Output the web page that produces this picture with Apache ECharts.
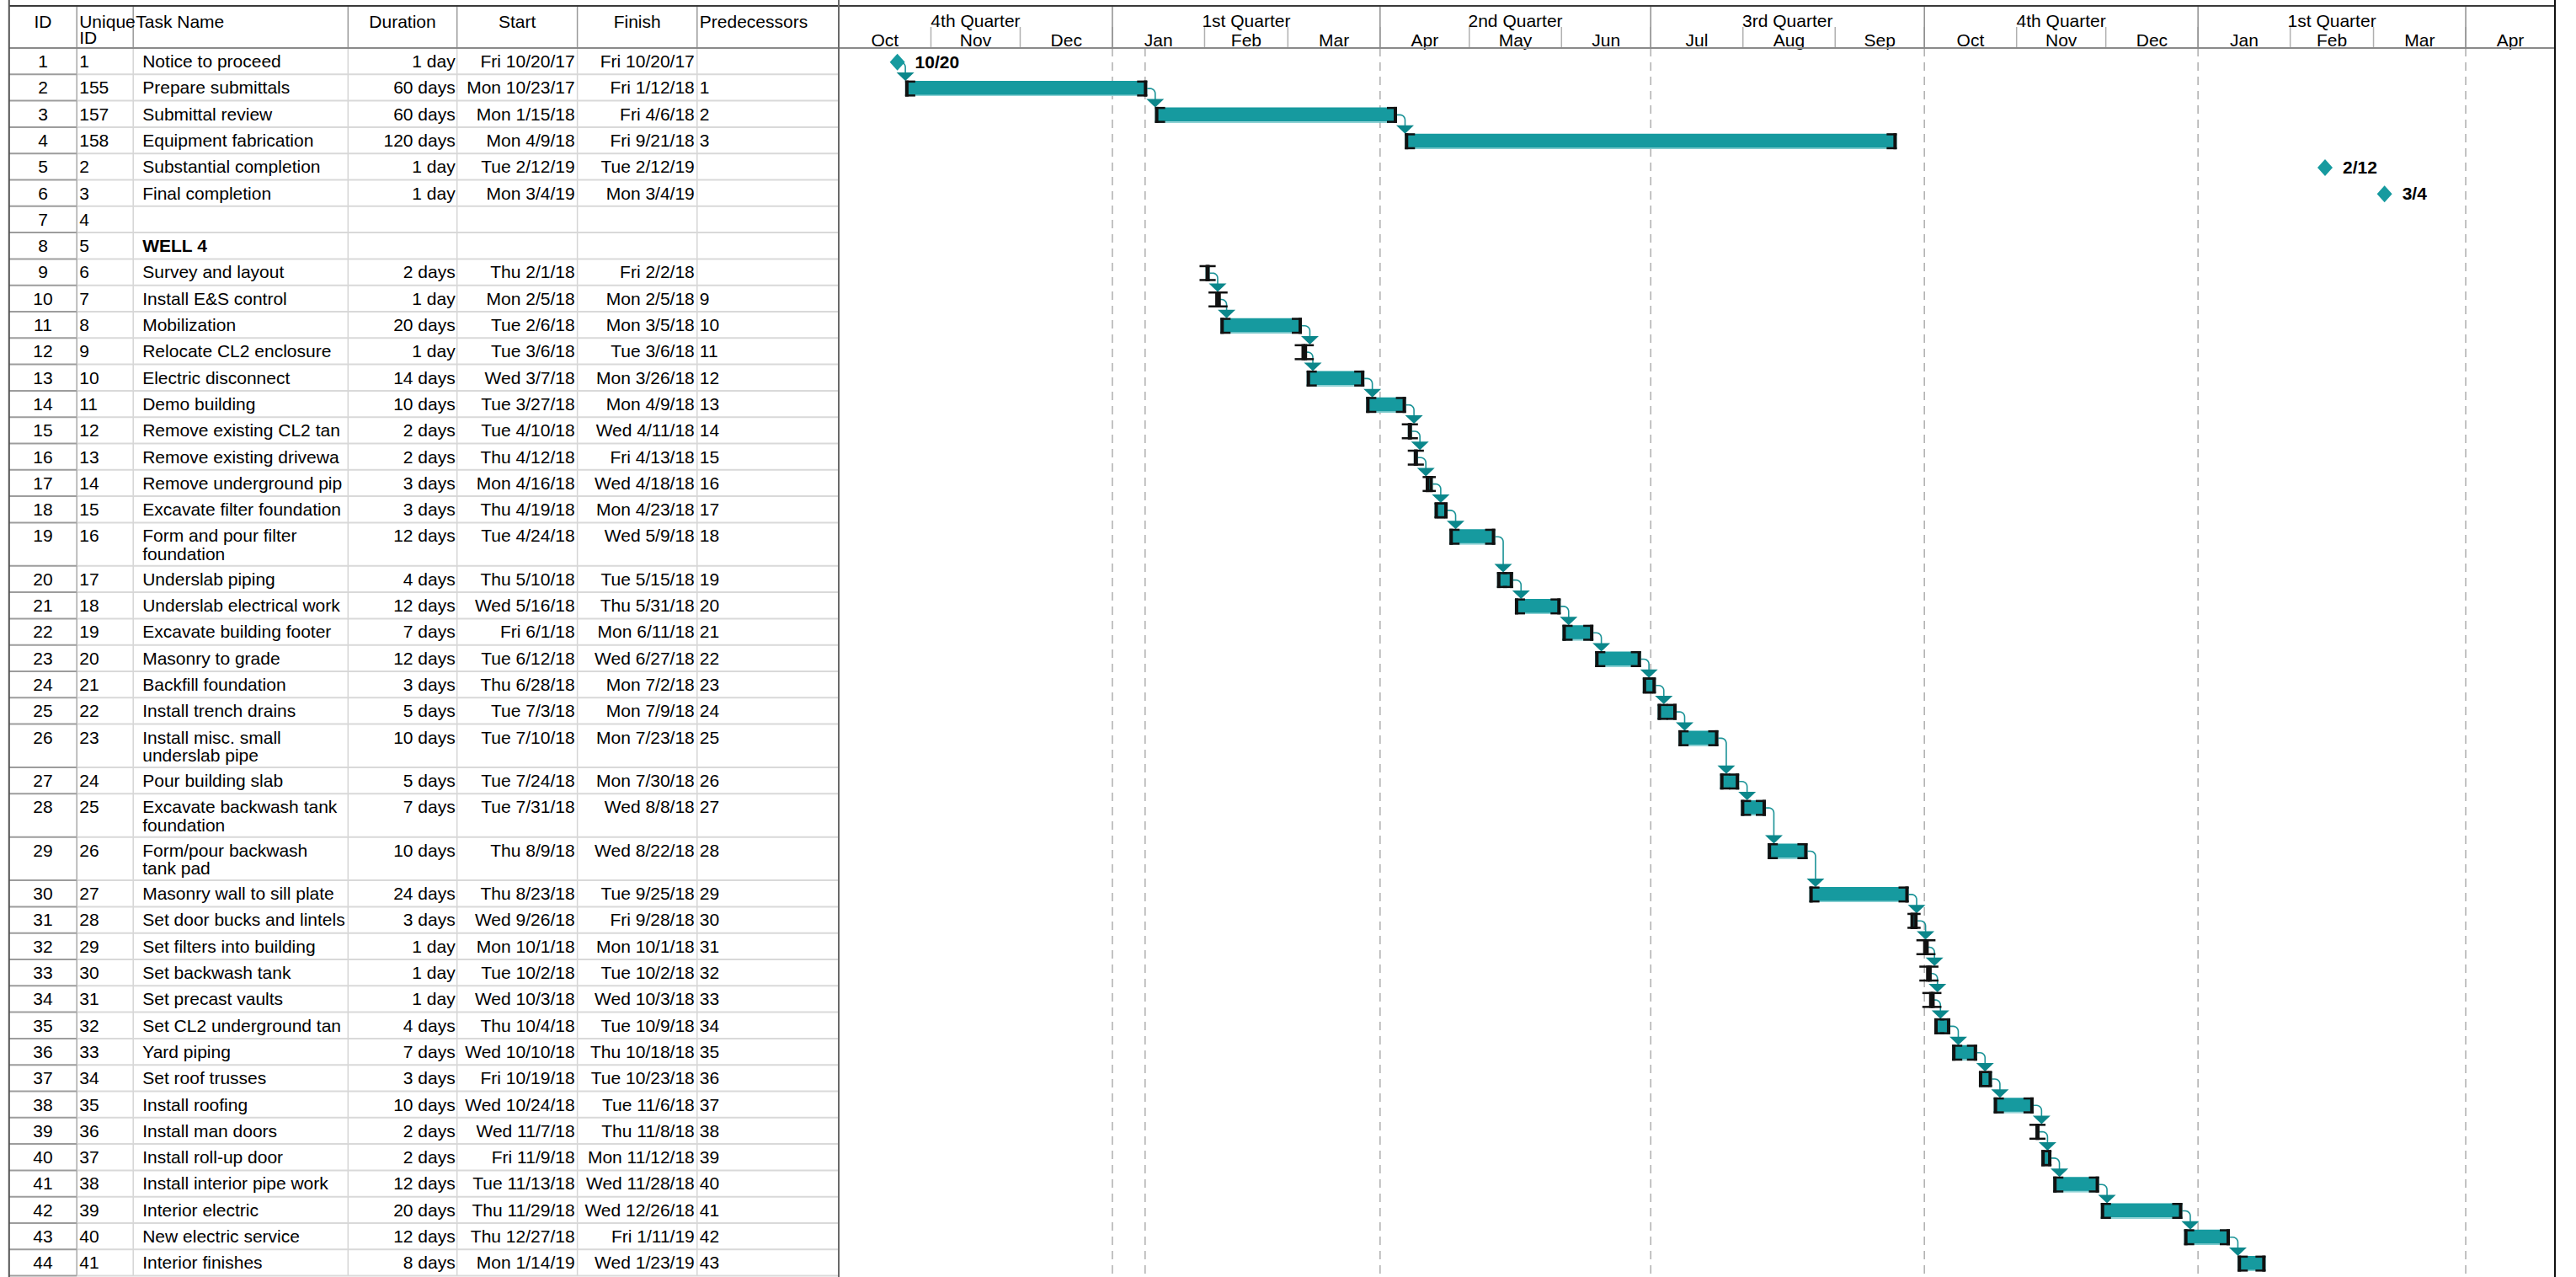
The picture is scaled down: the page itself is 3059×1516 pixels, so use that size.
<!DOCTYPE html>
<html><head><meta charset="utf-8">
<script src="https://cdn.jsdelivr.net/npm/echarts@6/dist/echarts.min.js"></script>
<style>html,body{margin:0;padding:0;background:#fff}#c{width:3059px;height:1516px}</style>
</head><body><div id="c"></div>
<script>
// ---------------- DATA ----------------
const ids = [1,2,3,4,5,6,7,8,9,10,11,12,13,14,15,16,17,18,19,20,21,22,23,24,25,26,27,28,29,30,31,32,33,34,35,36,37,38,39,40,41,42,43,44];
const uniqueIds = [1,155,157,158,2,3,4,5,6,7,8,9,10,11,12,13,14,15,16,17,18,19,20,21,22,23,24,25,26,27,28,29,30,31,32,33,34,35,36,37,38,39,40,41];
const taskNames = [
 'Notice to proceed','Prepare submittals','Submittal review','Equipment fabrication','Substantial completion','Final completion','',
 'WELL 4','Survey and layout','Install E&S control','Mobilization','Relocate CL2 enclosure','Electric disconnect','Demo building',
 'Remove existing CL2 tank','Remove existing driveway','Remove underground piping','Excavate filter foundation',
 'Form and pour filter\nfoundation','Underslab piping','Underslab electrical work','Excavate building footer','Masonry to grade',
 'Backfill foundation','Install trench drains','Install misc. small\nunderslab pipe','Pour building slab',
 'Excavate backwash tank\nfoundation','Form/pour backwash\ntank pad','Masonry wall to sill plate','Set door bucks and lintels',
 'Set filters into building','Set backwash tank','Set precast vaults','Set CL2 underground tank','Yard piping','Set roof trusses',
 'Install roofing','Install man doors','Install roll-up door','Install interior pipe work','Interior electric','New electric service','Interior finishes'];
const durations = ['1 day','60 days','60 days','120 days','1 day','1 day','','','2 days','1 day','20 days','1 day','14 days','10 days',
 '2 days','2 days','3 days','3 days','12 days','4 days','12 days','7 days','12 days','3 days','5 days','10 days','5 days','7 days',
 '10 days','24 days','3 days','1 day','1 day','1 day','4 days','7 days','3 days','10 days','2 days','2 days','12 days','20 days','12 days','8 days'];
const starts = ['Fri 10/20/17','Mon 10/23/17','Mon 1/15/18','Mon 4/9/18','Tue 2/12/19','Mon 3/4/19','','','Thu 2/1/18','Mon 2/5/18',
 'Tue 2/6/18','Tue 3/6/18','Wed 3/7/18','Tue 3/27/18','Tue 4/10/18','Thu 4/12/18','Mon 4/16/18','Thu 4/19/18','Tue 4/24/18',
 'Thu 5/10/18','Wed 5/16/18','Fri 6/1/18','Tue 6/12/18','Thu 6/28/18','Tue 7/3/18','Tue 7/10/18','Tue 7/24/18','Tue 7/31/18',
 'Thu 8/9/18','Thu 8/23/18','Wed 9/26/18','Mon 10/1/18','Tue 10/2/18','Wed 10/3/18','Thu 10/4/18','Wed 10/10/18','Fri 10/19/18',
 'Wed 10/24/18','Wed 11/7/18','Fri 11/9/18','Tue 11/13/18','Thu 11/29/18','Thu 12/27/18','Mon 1/14/19'];
const finishes = ['Fri 10/20/17','Fri 1/12/18','Fri 4/6/18','Fri 9/21/18','Tue 2/12/19','Mon 3/4/19','','','Fri 2/2/18','Mon 2/5/18',
 'Mon 3/5/18','Tue 3/6/18','Mon 3/26/18','Mon 4/9/18','Wed 4/11/18','Fri 4/13/18','Wed 4/18/18','Mon 4/23/18','Wed 5/9/18',
 'Tue 5/15/18','Thu 5/31/18','Mon 6/11/18','Wed 6/27/18','Mon 7/2/18','Mon 7/9/18','Mon 7/23/18','Mon 7/30/18','Wed 8/8/18',
 'Wed 8/22/18','Tue 9/25/18','Fri 9/28/18','Mon 10/1/18','Tue 10/2/18','Wed 10/3/18','Tue 10/9/18','Thu 10/18/18','Tue 10/23/18',
 'Tue 11/6/18','Thu 11/8/18','Mon 11/12/18','Wed 11/28/18','Wed 12/26/18','Fri 1/11/19','Wed 1/23/19'];
const predecessors = ['','1','2','3','','','','','','9','10','11','12','13','14','15','16','17','18','19','20','21','22','23','24',
 '25','26','27','28','29','30','31','32','33','34','35','36','37','38','39','40','41','42','43'];
const milestoneIds = [1,5,6];
const summaryIds = [8];
const headerLabels = ['ID','Unique\nID','Task Name','Duration','Start','Finish','Predecessors'];
const quarterLabels = ['4th Quarter','1st Quarter','2nd Quarter','3rd Quarter','4th Quarter','1st Quarter','2nd Quarter'];
const quarterStarts = ['2017-10-01','2018-01-01','2018-04-01','2018-07-01','2018-10-01','2019-01-01','2019-04-01','2019-07-01'];
const monthLabels = ['Oct','Nov','Dec','Jan','Feb','Mar','Apr','May','Jun','Jul','Aug','Sep','Oct','Nov','Dec','Jan','Feb','Mar','Apr'];
const monthStarts = ['2017-10-01','2017-11-01','2017-12-01','2018-01-01','2018-02-01','2018-03-01','2018-04-01','2018-05-01',
 '2018-06-01','2018-07-01','2018-08-01','2018-09-01','2018-10-01','2018-11-01','2018-12-01','2019-01-01','2019-02-01',
 '2019-03-01','2019-04-01','2019-05-01'];
const statusDate = '2018-01-12';
const timelineStart = '2017-10-01';
const timelineEnd = '2019-05-01';

// ---------------- LAYOUT / STYLE ----------------
const FF = '"Liberation Sans", Arial, Helvetica, sans-serif';
const F = '21px ' + FF, FB = 'bold 21px ' + FF;
const HEAD_TOP = 7, TIER = 32, HEAD_BOT = 57;
const TABLE_L = 10.8, GANTT_L = 996, GANTT_R = 3034;
const colX = [10.8, 91.2, 158.2, 413.3, 542.7, 685.6, 827.8, 996];
const ROW_H = 31.3, LINE_EXTRA = 20.1, LINE_H = 21.7, TEXT_OFF = 15.5;
const BAR_OFF = 16.8, BAR_H = 18;
const TEAL = '#169a9f', TEAL_DARK = '#0b878b', LINK = '#1b9397';

const HOUR = 3600000;
function parseMDY(s) { const p = s.split(' ').pop().split('/'); return new Date(2000 + +p[2], +p[0] - 1, +p[1]).getTime(); }
function parseISO(s) { const p = s.split('-'); return new Date(+p[0], +p[1] - 1, +p[2]).getTime(); }
function md(s) { const p = s.split(' ').pop().split('/'); return p[0] + '/' + p[1]; }

const rowLines = taskNames.map(n => n ? n.split('\n').length : 1);
const rowH = rowLines.map(l => ROW_H + (l - 1) * LINE_EXTRA);
const rowTop = []; let acc = 0;
rowH.forEach(h => { rowTop.push(acc); acc += h; });
const totalH = acc;

const rowStart = starts.map(s => s ? parseMDY(s) + 8 * HOUR : null);
const rowFinish = finishes.map(s => s ? parseMDY(s) + 17 * HOUR : null);
const isMs = ids.map(id => milestoneIds.includes(id));

const taskData = [];
ids.forEach((id, i) => { if (starts[i]) taskData.push([rowStart[i], rowFinish[i], i, isMs[i] ? 1 : 0]); });
const linkData = [];
predecessors.forEach((p, i) => { if (!p) return; p.split(',').forEach(q => { linkData.push([ids.indexOf(+q), i]); }); });

const monthData = monthLabels.map((l, k) => [parseISO(monthStarts[k]), parseISO(monthStarts[k + 1]), k, 0]);
const quarterData = quarterLabels.map((l, k) => [parseISO(quarterStarts[k]), parseISO(quarterStarts[k + 1]), k, 1]);
const dashData = [statusDate].concat(quarterStarts.slice(1, 7)).map(d => [parseISO(d), 0]);

// ---------------- RENDERERS ----------------
function txt(x, y, text, align, opt) {
  const st = Object.assign({ text: text, font: F, fill: '#000', align: align, textAlign: align, verticalAlign: 'middle', textVerticalAlign: 'middle' }, opt || {});
  return { type: 'text', x: x, y: y, style: st };
}
function renderRow(params, api) {
  const i = api.value(1);
  const yT = api.coord([0, rowTop[i]])[1], yB = api.coord([0, rowTop[i] + rowH[i]])[1];
  const cx = colX.map(v => api.coord([v, rowTop[i]])[0]);
  const ch = [];
  for (let k = 1; k < 7; k++) ch.push({ type: 'line', shape: { x1: cx[k], y1: yT, x2: cx[k], y2: yB }, style: { stroke: k === 1 ? '#a9a9a9' : '#d5d5d5', lineWidth: 1.5 } });
  ch.push({ type: 'line', shape: { x1: cx[1], y1: yB, x2: cx[7], y2: yB }, style: { stroke: '#d9d9d9', lineWidth: 2 } });
  ch.push({ type: 'line', shape: { x1: cx[0], y1: yB, x2: cx[1], y2: yB }, style: { stroke: '#9d9d9d', lineWidth: 2 } });
  const y = yT + TEXT_OFF;
  ch.push(txt((cx[0] + cx[1]) / 2, y, String(ids[i]), 'center'));
  ch.push(txt(cx[1] + 3, y, String(uniqueIds[i]), 'left'));
  const bold = summaryIds.includes(ids[i]);
  taskNames[i].split('\n').forEach((ln, j) => {
    ch.push(txt(cx[2] + 11, y + j * LINE_H, ln, 'left', { font: bold ? FB : F, width: cx[3] - cx[2] - 12, overflow: 'truncate', ellipsis: '' }));
  });
  ch.push(txt(cx[4] - 2, y, durations[i], 'right'));
  ch.push(txt(cx[5] - 3, y, starts[i], 'right'));
  ch.push(txt(cx[6] - 3, y, finishes[i], 'right'));
  ch.push(txt(cx[6] + 3, y, predecessors[i], 'left'));
  return { type: 'group', children: ch };
}
function renderTask(params, api) {
  const s = api.value(0), f = api.value(1), i = api.value(2), ms = api.value(3);
  const yv = rowTop[i] + BAR_OFF;
  const p0 = api.coord([s, yv]), p1 = api.coord([f, yv]);
  const yc = p0[1];
  if (ms) {
    const x = p1[0];
    return { type: 'group', children: [
      { type: 'polygon', shape: { points: [[x, yc - 10], [x + 9, yc], [x, yc + 10], [x - 9, yc]] }, style: { fill: TEAL } },
      txt(x + 21, yc - 0.5, md(finishes[i]), 'left', { font: FB })
    ] };
  }
  const x0 = p0[0], x1 = p1[0], t = yc - BAR_H / 2, b = yc + BAR_H / 2;
  const K = '#111';
  return { type: 'group', children: [
    { type: 'rect', shape: { x: x0, y: t, width: Math.max(x1 - x0, 0.5), height: BAR_H }, style: { fill: TEAL } },
    { type: 'rect', shape: { x: x0, y: b - 1.5, width: Math.max(x1 - x0, 0.5), height: 1.5 }, style: { fill: '#8fd2d5' } },
    { type: 'rect', shape: { x: x0, y: t - 0.5, width: 4, height: BAR_H + 1 }, style: { fill: K } },
    { type: 'rect', shape: { x: x0, y: t - 0.5, width: 12, height: 2.5 }, style: { fill: K } },
    { type: 'rect', shape: { x: x0, y: b - 2, width: 12, height: 2.5 }, style: { fill: K } },
    { type: 'rect', shape: { x: x1 - 4, y: t - 0.5, width: 4, height: BAR_H + 1 }, style: { fill: K } },
    { type: 'rect', shape: { x: x1 - 12, y: t - 0.5, width: 12, height: 2.5 }, style: { fill: K } },
    { type: 'rect', shape: { x: x1 - 12, y: b - 2, width: 12, height: 2.5 }, style: { fill: K } }
  ] };
}
function renderLink(params, api) {
  const j = api.value(0), i = api.value(1);
  const pe = api.coord([rowFinish[j], rowTop[j] + BAR_OFF]);
  const sTop = api.coord([rowStart[i], rowTop[i] + BAR_OFF - BAR_H / 2])[1];
  const x0 = pe[0], y0 = pe[1], vx = x0 + 9.5, r = 6, aTop = sTop - 10;
  const pts = [[x0, y0]];
  for (let a = 0; a <= 6; a++) {
    const th = (a / 6) * Math.PI / 2;
    pts.push([vx - r + r * Math.sin(th), y0 + r - r * Math.cos(th)]);
  }
  pts.push([vx, aTop + 1]);
  return { type: 'group', children: [
    { type: 'polyline', shape: { points: pts }, style: { stroke: LINK, lineWidth: 1.6, fill: null } },
    { type: 'polygon', shape: { points: [[vx - 10.5, aTop], [vx + 10.5, aTop], [vx, sTop]] }, style: { fill: TEAL_DARK } }
  ] };
}
function renderScale(params, api) {
  const s = api.value(0), e = api.value(1), k = api.value(2), q = api.value(3);
  const gTop = api.coord([s, 0])[1];
  const x0 = api.coord([s, 0])[0], x1 = api.coord([e, 0])[0];
  const ch = [];
  const yTop = gTop - (HEAD_BOT - HEAD_TOP), yTier = gTop - (HEAD_BOT - TIER);
  if (x0 > GANTT_L + 2) ch.push({ type: 'line', shape: { x1: x0, y1: q ? yTop : yTier, x2: x0, y2: gTop }, style: { stroke: q ? '#8f8f8f' : '#b0b0b0', lineWidth: 1.5 } });
  ch.push(txt((x0 + x1) / 2, q ? yTop + 17.5 : yTier + 15, q ? quarterLabels[k] : monthLabels[k], 'center'));
  return { type: 'group', children: ch };
}
function renderDash(params, api) {
  const p0 = api.coord([api.value(0), 0]), p1 = api.coord([api.value(0), totalH]);
  return { type: 'line', shape: { x1: p0[0], y1: p0[1], x2: p1[0], y2: p1[1] }, style: { stroke: '#b3b3b3', lineWidth: 1.6, lineDash: [10, 7] } };
}

// ---------------- GRAPHIC (frame + table header) ----------------
const g = [];
function gl(x1, y1, x2, y2, stroke, w, z) { g.push({ type: 'line', z: z || 60, shape: { x1, y1, x2, y2 }, style: { stroke, lineWidth: w } }); }
g.push({ type: 'rect', z: 50, shape: { x: GANTT_R, y: 0, width: 3059 - GANTT_R, height: 1516 }, style: { fill: '#fff' } });
for (let k = 1; k < 7; k++) gl(colX[k], HEAD_TOP, colX[k], HEAD_BOT, '#9a9a9a', 1.5);
gl(TABLE_L, HEAD_BOT, GANTT_R, HEAD_BOT, '#8a8a8a', 2);
gl(TABLE_L, HEAD_TOP, GANTT_R, HEAD_TOP, '#3a3a3a', 2);
gl(TABLE_L, 0, TABLE_L, 1516, '#555', 2);
gl(GANTT_L, 0, GANTT_L, 1516, '#6a6a6a', 2);
gl(GANTT_R, 0, GANTT_R, 1516, '#111', 2);
function gt(x, y, text, align) { g.push({ type: 'text', z: 60, x, y, style: { text, font: F, fill: '#000', align, textAlign: align, verticalAlign: 'middle', textVerticalAlign: 'middle' } }); }
const hAlign = ['center', 'left', 'left', 'center', 'center', 'center', 'left'];
headerLabels.forEach((h, k) => {
  const lines = h.split('\n');
  const x = hAlign[k] === 'center' ? (colX[k] + colX[k + 1]) / 2 : colX[k] + 3;
  lines.forEach((ln, j) => gt(x, 25 + j * 19, ln, hAlign[k]));
});

// ---------------- CHART ----------------
const chart = echarts.init(document.getElementById('c'), null, { renderer: 'svg' });
chart.setOption({
  animation: false,
  backgroundColor: '#fff',
  grid: [
    { left: 0, top: HEAD_BOT, width: GANTT_L, height: totalH },
    { left: GANTT_L, top: HEAD_BOT, width: GANTT_R - GANTT_L, height: totalH }
  ],
  xAxis: [
    { gridIndex: 0, type: 'value', min: 0, max: GANTT_L, show: false },
    { gridIndex: 1, type: 'time', min: parseISO(timelineStart), max: parseISO(timelineEnd), show: false }
  ],
  yAxis: [
    { gridIndex: 0, type: 'value', min: 0, max: totalH, inverse: true, show: false },
    { gridIndex: 1, type: 'value', min: 0, max: totalH, inverse: true, show: false }
  ],
  graphic: { elements: g },
  series: [
    { type: 'custom', xAxisIndex: 0, yAxisIndex: 0, silent: true, clip: false, z: 3, renderItem: renderRow, data: ids.map((d, i) => [0, i]) },
    { type: 'custom', xAxisIndex: 1, yAxisIndex: 1, silent: true, clip: false, z: 1, renderItem: renderDash, data: dashData },
    { type: 'custom', xAxisIndex: 1, yAxisIndex: 1, silent: true, clip: false, z: 3, renderItem: renderScale, data: monthData.concat(quarterData) },
    { type: 'custom', xAxisIndex: 1, yAxisIndex: 1, silent: true, clip: false, z: 4, renderItem: renderLink, data: linkData },
    { type: 'custom', xAxisIndex: 1, yAxisIndex: 1, silent: true, clip: false, z: 5, renderItem: renderTask, data: taskData }
  ]
});
</script></body></html>
